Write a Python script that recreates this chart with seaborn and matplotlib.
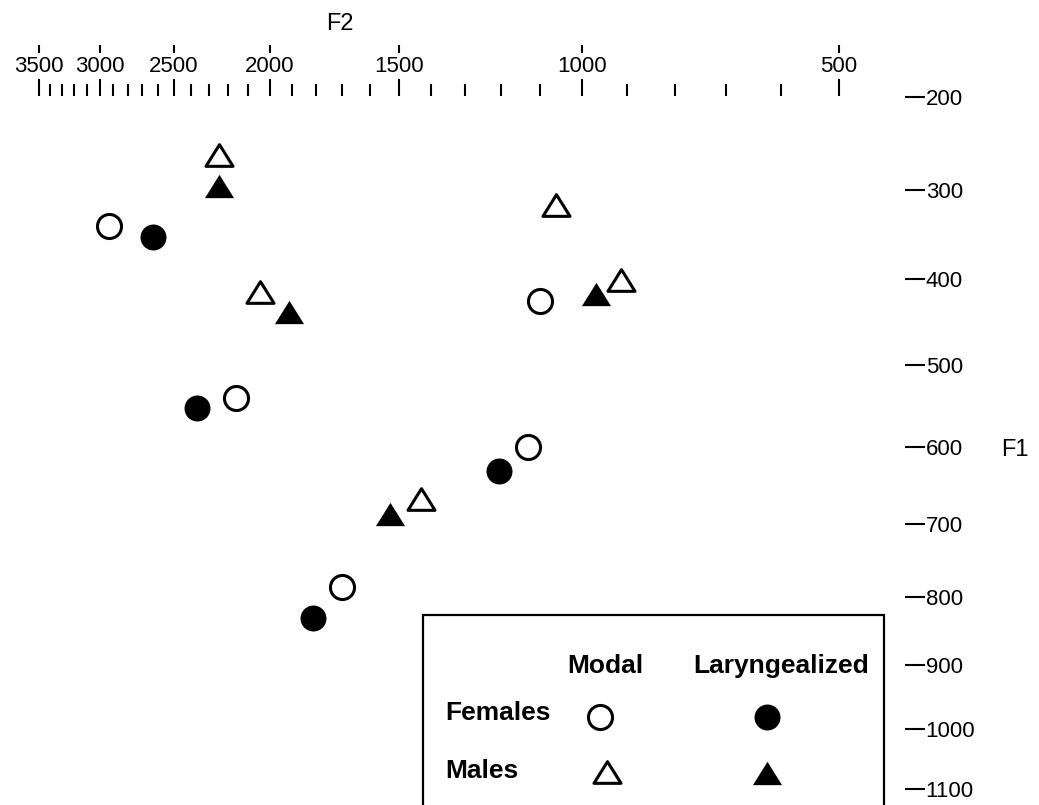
import numpy as np
import matplotlib
matplotlib.use("Agg")
import matplotlib.pyplot as plt
import seaborn as sns
from matplotlib.patches import Rectangle
from matplotlib.path import Path
from matplotlib.ticker import NullLocator

# ---------------- data (Hz) ----------------
fem_modal_f2 = [2930, 2160, 1130, 1700, 1100]
fem_modal_f1 = [340, 540, 600, 785, 425]
fem_lar_f2 = [2630, 2365, 1205, 1815]
fem_lar_f1 = [352, 552, 630, 830]
male_modal_f2 = [2250, 2045, 1430, 1060, 913]
male_modal_f1 = [262, 415, 667, 317, 401]
male_lar_f2 = [2250, 1915, 1530, 968]
male_lar_f1 = [296, 438, 686, 417]

f2_major = [3500, 3000, 2500, 2000, 1500, 1000, 500]
f2_major_labels = ["3500", "3000", "2500", "2000", "1500", "1000", "500"]
f2_minor = list(range(500, 3600, 100))
f1_ticks = [200, 300, 400, 500, 600, 700, 800, 900, 1000, 1100]
f1_labels = ["200", "300", "400", "500", "600", "700", "800", "900", "1000", "1100"]

col_headers = ["Modal", "Laryngealized"]
row_headers = ["Females", "Males"]


# ---------------- Bark scale ----------------
def bark(f):
    f = np.asarray(f, dtype=float)
    return 13.0 * np.arctan(0.00076 * f) + 3.5 * np.arctan((f / 7500.0) ** 2)


_grid = np.linspace(0, 20000, 200001)
_gb = bark(_grid)


def inv_bark(z):
    return np.interp(np.asarray(z, dtype=float), _gb, _grid)


sns.set_theme(style="white")
plt.rcParams["font.family"] = ["Liberation Sans", "DejaVu Sans"]

fig = plt.figure(figsize=(10.39, 8.05), dpi=100)
ax = fig.add_axes([0.0, 0.0, 905 / 1039, 709 / 805])

tri = Path([(-1, -0.8), (1, -0.8), (0, 0.8), (-1, -0.8)], closed=True)

sns.scatterplot(x=fem_modal_f2, y=fem_modal_f1, marker="o", s=300,
                facecolor="white", edgecolor="black", linewidth=2.2, ax=ax, zorder=3)
sns.scatterplot(x=fem_lar_f2, y=fem_lar_f1, marker="o", s=350,
                facecolor="black", edgecolor="black", linewidth=0, ax=ax, zorder=3)
sns.scatterplot(x=male_modal_f2, y=male_modal_f1, marker=tri, s=380,
                facecolor="white", edgecolor="black", linewidth=2.2, ax=ax, zorder=3)
sns.scatterplot(x=male_lar_f2, y=male_lar_f1, marker=tri, s=440,
                facecolor="black", edgecolor="black", linewidth=0, ax=ax, zorder=3)

XLIM = (float(inv_bark(17.07)), float(inv_bark(3.76)))
YLIM = (float(inv_bark(9.295)), float(inv_bark(1.948)))

ax.set_xscale("function", functions=(bark, inv_bark))
ax.set_yscale("function", functions=(bark, inv_bark))
ax.set_xlim(*XLIM)
ax.set_ylim(*YLIM)

# small marks above the F2 labels (twin axis, ticks moved outward)
ax2 = ax.twiny()
ax2.set_xscale("function", functions=(bark, inv_bark))
ax2.set_xlim(*XLIM)
ax2.set_xticks(f2_major, labels=[""] * len(f2_major))
ax2.xaxis.set_minor_locator(NullLocator())
ax2.spines["top"].set_position(("outward", (96 - 53) * 0.72))
for sp in ax2.spines.values():
    sp.set_visible(False)
ax2.tick_params(axis="x", which="major", direction="out", length=5.8, width=1.5,
                top=True, bottom=False, labeltop=False, labelbottom=False, color="black")
ax2.tick_params(axis="y", left=False, right=False, labelleft=False, labelright=False)
ax2.grid(False)

for sp in ax.spines.values():
    sp.set_visible(False)

# top F2 axis (configured after twiny, which resets tick side)
ax.xaxis.set_ticks_position("top")
ax.xaxis.set_label_position("top")
ax.set_xticks(f2_major, labels=f2_major_labels)
ax.set_xticks(f2_minor, minor=True)
ax.tick_params(axis="x", which="major", direction="out", length=12, width=1.5,
               pad=2, labelsize=16, top=True, bottom=False,
               labeltop=True, labelbottom=False, color="black", labelcolor="black")
ax.tick_params(axis="x", which="minor", direction="out", length=8.5, width=1.5,
               top=True, bottom=False, color="black")
ax.set_xlabel("F2", fontsize=17, color="black")
ax.xaxis.set_label_coords(340 / 905, 1 + (96 - 24) / 709)
ax.xaxis.label.set_va("center")

# right F1 axis
ax.yaxis.tick_right()
ax.yaxis.set_label_position("right")
ax.set_yticks(f1_ticks, labels=f1_labels)
ax.yaxis.set_minor_locator(NullLocator())
ax.tick_params(axis="y", which="major", direction="out", length=14.4, width=1.5,
               pad=0.5, labelsize=16, right=True, left=False,
               labelright=True, labelleft=False, color="black", labelcolor="black")
ax.set_ylabel("F1", fontsize=17, rotation=0, color="black", ha="center", va="center")
ax.yaxis.set_label_coords(1015 / 905, (805 - 450) / 709)

ax.grid(False)

# ---------------- legend table ----------------
box = Rectangle((423 / 905, -0.1), (884 - 423) / 905, 0.268 + 0.1,
                transform=ax.transAxes, fill=True, facecolor="white",
                edgecolor="black", linewidth=1.6, clip_on=False, zorder=4)
ax.add_patch(box)

lfont = dict(fontsize=19, fontweight="bold", color="black", transform=ax.transAxes,
             zorder=5, va="baseline")
ax.text(605 / 905, (805 - 673) / 709, col_headers[0], ha="center", **lfont)
ax.text(781 / 905, (805 - 673) / 709, col_headers[1], ha="center", **lfont)
ax.text(445 / 905, (805 - 720) / 709, row_headers[0], ha="left", **lfont)
ax.text(445 / 905, (805 - 778) / 709, row_headers[1], ha="left", **lfont)

ax.scatter([600 / 905], [(805 - 717) / 709], transform=ax.transAxes, marker="o", s=300,
           facecolor="white", edgecolor="black", linewidth=2.2, zorder=6, clip_on=False)
ax.scatter([767 / 905], [(805 - 717) / 709], transform=ax.transAxes, marker="o", s=350,
           facecolor="black", edgecolor="black", linewidth=0, zorder=6, clip_on=False)
ax.scatter([607 / 905], [(805 - 772) / 709], transform=ax.transAxes, marker=tri, s=380,
           facecolor="white", edgecolor="black", linewidth=2.2, zorder=6, clip_on=False)
ax.scatter([767 / 905], [(805 - 773) / 709], transform=ax.transAxes, marker=tri, s=440,
           facecolor="black", edgecolor="black", linewidth=0, zorder=6, clip_on=False)

fig.savefig("out.png", dpi=100, facecolor="white")
